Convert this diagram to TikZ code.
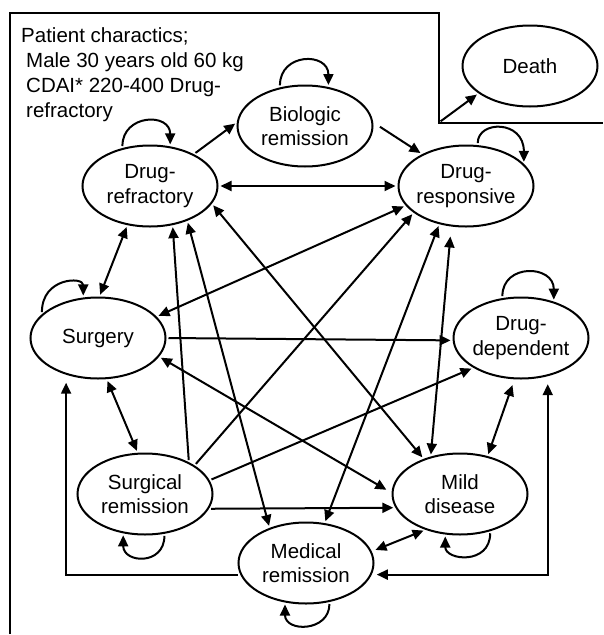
\documentclass[tikz,border=0pt]{standalone}
\usepackage{fontspec}
\setmainfont{Liberation Sans}
\usetikzlibrary{arrows.meta,shapes.geometric}

\tikzset{
    state/.style={draw, ellipse, line width=2pt, minimum width=135pt, minimum height=81pt,
        inner xsep=-6pt, inner ysep=0pt, align=center, font=\fontsize{20.5}{24.5}\selectfont},
    arr/.style={line width=2pt, shorten >=2pt, shorten <=2pt},
    >={Triangle[length=11pt,width=10pt]}
}
% self transition: node, start angle, end angle, start pull, end pull
\newcommand\selfloop[5]{\draw [arr, ->] (#1.#2) .. controls +(0,#4) and +(0,#5) .. (#1.#3);}

\begin{document}
\begin{tikzpicture}[x=1pt, y=-1pt]
    \useasboundingbox (0,0) rectangle (603,635);

    % frame
    \draw [line width=2pt] (10,634) -- (10,12.7) -- (439,12.7) -- (439,122.5) -- (603,122.5);
    \coordinate (corner) at (439,122.5);

    \node [anchor=north west, inner sep=0pt, align=left, font=\fontsize{20.5}{25}\selectfont] (info) at (21,27.5)
        {Patient charactics;\\\hspace*{5pt}Male 30 years old 60 kg\\\hspace*{5pt}CDAI* 220-400 Drug-\\\hspace*{5pt}refractory};

    % states
    \node [state] (refr) at (150,186) {Drug-\\refractory};
    \node [state] (bio)  at (305,126) {Biologic\\remission};
    \node [state] (resp) at (466,186) {Drug-\\responsive};
    \node [state] (death) at (530,66) {Death};
    \node [state] (surg) at (98,338) {Surgery};
    \node [state] (dep)  at (521,338) {Drug-\\dependent};
    \node [state] (srem) at (145,494) {Surgical\\remission};
    \node [state] (mild) at (460,494) {Mild\\disease};
    \node [state] (mrem) at (306,563) {Medical\\remission};

    % self transitions
    \selfloop{refr}{126}{63}{-34}{-34}
    \selfloop{bio}{123}{59}{-35}{-35}
    \selfloop{resp}{74}{21}{-25}{-44}
    \selfloop{surg}{157}{110}{-37}{-21}
    \selfloop{dep}{115}{48}{-35}{-37}
    \selfloop{srem}{-64}{-119}{32}{30}
    \selfloop{mrem}{-59}{-118}{30}{30}
    \selfloop{mild}{-51}{-110}{34}{26}

    % top row
    \draw [arr, ->] (corner) -- (death.208);
    \draw [arr, ->] (refr.36) -- (bio.177);
    \draw [arr, ->, shorten <=8pt] (bio.3) -- (resp.144);
    \draw [arr, <->] (refr.0) -- (resp.180);

    % from drug-refractory down
    \draw [arr, <->] (refr.-120) -- (surg.88);
    \draw [arr, <->] (refr.-43) -- (mrem.136);
    \draw [arr, <->] (refr.-16) -- (mild.136);

    % from drug-responsive down
    \draw [arr, <->] (resp.198) -- (surg.20);
    \draw [arr, <->] (resp.-125) -- (mrem.65);
    \draw [arr, <->, shorten >=10pt] (mild.128) -- (resp.-110);

    % surgery
    \draw [arr, ->] (surg.0) -- (dep.182);
    \draw [arr, <->, shorten >=6pt] (surg.-17) -- (mild.179);
    \draw [arr, <->] (surg.-78) -- (srem.100);

    % surgical remission out
    \draw [arr, ->] (srem.36) -- (refr.-60);
    \draw [arr, ->] (srem.30) -- (resp.207);
    \draw [arr, ->] (srem.12) -- (dep.212);
    \draw [arr, ->] (srem.-13) -- (mild.192);

    % bottom
    \draw [arr, <->, shorten >=6pt] (mild.54) -- (dep.-99);
    \draw [arr, <->, shorten <=4pt] (mrem.10) -- (mild.-134);
    \draw [arr, ->, shorten >=8pt] (mrem.190) -| (surg.-131);
    \draw [arr, <->, shorten <=5pt, shorten >=8pt] (mrem.-10) -| (dep.-55);

\end{tikzpicture}
\end{document}
